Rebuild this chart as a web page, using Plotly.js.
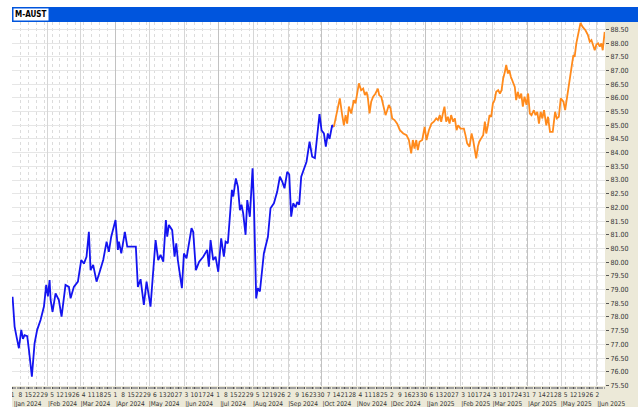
<!DOCTYPE html>
<html>
<head>
<meta charset="utf-8">
<script src="https://cdn.plot.ly/plotly-3.0.1.min.js"></script>
<style>
html,body{margin:0;padding:0;background:#fff;}
#chart{width:638px;height:407px;}
</style>
</head>
<body>
<div id="chart"></div>
<script>
// ---- data (day offsets from start date, closing values) ----
const startDate = '2024-01-01';
const chartTitle = 'M-AUST';

const blueDays = [0,1.8,3.5,5.6,7.7,9.2,10.6,13,14.5,17.1,
19.5,21.8,24.8,27.8,29.8,31.3,32.8,33.7,35.4,38.1,
41,43.4,46.9,49.9,51.4,54.3,57.9,60.8,63.2,65.5,
67.6,69.1,71.4,74.4,76.8,80.3,83.3,85.3,87.4,91.2,
93.3,94.2,96.3,99.5,101.6,109.2,111,113.4,116.3,118.7,
122.2,124.6,126.7,129,131.1,133.5,135.8,137,138.5,141.4,
143.5,145,146.4,150,151.8,154.1,158.5,160,162.4,165.3,
168.9,172.4,173.9,175.4,177.7,179.8,182.2,184.8,187.2,188.7,
190.7,194.3,195.5,197.8,199.6,201.4,202.8,204.3,206.4,207.9,
210.2,212.6,213.8,215.8,217.3,219.1,220.3,222.6,226.2,228.5,
231.5,234.4,236.8,238.9,240.9,243.3,245.1,246.8,248.6,250.7,
252.1,253.9,255.7,258,260.4,263.1,265.4,267.8,269.9,271.9,
273.7,275.8,277.5,279.3,280.8,283.1,284.6];
const blueValues = [78.74,77.65,77.28,76.86,77.53,77.2,77.34,77.3,76.8,75.82,
77.04,77.53,77.89,78.38,79.17,78.75,79.35,78.62,78.19,78.86,
78.62,78.01,79.17,79.1,78.68,79.1,79.29,80.08,79.95,80.2,
81.11,79.71,79.9,79.29,79.6,80.08,80.75,80.38,80.93,81.54,
80.45,80.75,80.32,81.11,80.57,80.57,79.1,79.38,78.44,79.29,
78.38,79.6,80.81,80.08,80.27,80.02,81.54,80.93,81.36,81.17,
80.2,80.69,80.08,79.05,80.32,80.14,81.24,81.11,79.71,80.02,
80.2,80.45,79.84,80.81,80.08,80.2,79.65,80.87,80.2,80.75,
80.69,82.64,82.4,83.06,82.76,81.9,82.1,81.78,81.0,82.27,
81.66,83.43,82.15,78.68,79.05,78.93,79.42,80.32,80.93,81.97,
82.15,82.57,83.12,82.94,82.7,83.3,83.2,81.66,82.15,82.0,
82.2,82.1,83.12,83.43,83.67,84.4,83.85,83.8,84.76,85.41,
84.82,84.7,84.22,84.7,84.5,85.0,84.94];

const orangeDays = [284.6,287.6,289.9,292,293.5,295,296.4,297.9,300,302.3,
303.8,306.8,308.8,310.6,312.1,313.6,314.8,316.2,317.7,319.4,
321.5,323.6,324.8,326.6,328.3,330.4,331.9,333.3,334.8,336.3,
338.4,340.7,343.1,346.1,349,351.1,353.1,354.6,356.1,357.6,
359,360.5,362.9,365,366.7,368.8,371.1,373.2,375.3,376.8,
378.5,379.7,381.2,382.6,384.1,385.6,387.1,388.5,390.3,391.8,
393.3,394.7,396.8,399.8,401.2,402.7,404.8,406.6,408,409.5,
410.7,412.2,413.4,415.1,416.9,418.4,419.6,421.1,422.5,424,
425.5,427,428.4,430.2,431.7,433.2,434.6,436.1,437.3,438.8,
440,441.4,442.9,444.9,446.1,447.6,449.1,450.6,452,453.5,
455.3,456.7,458.2,459.7,461.8,463.3,464.8,466.3,467.8,469.3,
470.8,472.8,474.3,476.1,478.5,480.6,482.1,483.9,485.6,488,
489.5,491.5,493,494.4,495.9,496.8,497.9,499.4,500.9,502.2,
503.1,504.8,507.5,509.6,511.3,512.8,514.3,515.7,517.2,518.7,
520.2,521.6,522.8,523.8,524.5];
const orangeValues = [84.94,85.49,85.98,85.37,85.0,85.37,85.06,85.68,85.43,85.92,
85.8,86.53,86.28,86.34,86.1,86.22,85.98,85.43,85.86,86.04,
86.16,86.34,86.1,86.04,85.74,85.37,85.55,85.74,85.62,85.25,
85.19,85.06,84.82,84.7,84.64,84.46,83.97,84.46,84.15,84.46,
84.09,84.4,84.46,84.94,84.46,84.82,85.06,85.13,85.25,85.19,
85.37,85.13,85.43,85.68,85.13,85.31,85.06,85.37,85.13,85.25,
84.82,85.0,84.88,84.88,84.64,84.34,84.22,84.7,84.46,84.09,
83.79,84.22,84.4,84.52,84.64,85.13,84.7,85.0,85.37,85.31,
85.8,85.92,86.22,86.28,86.16,86.28,86.71,86.95,87.2,86.89,
87.01,86.77,86.59,86.4,85.92,86.22,85.98,86.16,85.68,86.04,
85.74,86.16,85.43,85.37,85.55,85.37,85.49,85.06,85.49,85.25,
85.55,85.0,85.31,84.76,84.76,85.49,85.25,85.31,85.98,85.86,
85.55,86.16,86.53,86.89,87.32,87.56,87.5,87.99,88.3,88.54,
88.74,88.6,88.47,88.3,88.05,88.11,87.87,87.74,87.95,87.99,
87.87,87.99,87.74,88.11,88.41];

const xRangeDays = [-0.5, 524.8];
const yRange = [75.48, 88.77];

// ---- helpers ----
const DAY = 86400000;
const t0 = Date.parse(startDate + 'T00:00:00Z');
function toDate(d){ return new Date(t0 + d*DAY).toISOString().replace('T',' ').replace('Z',''); }
const xRange = xRangeDays.map(toDate);

const FONT = 'Liberation Sans Narrow, DejaVu Sans Condensed, Arial Narrow, sans-serif';

const traces = [
  {x: blueDays.map(toDate), y: blueValues, type:'scatter', mode:'lines',
   line:{color:'#1414F0', width:1.8}, hoverinfo:'skip', xaxis:'x', yaxis:'y'},
  {x: orangeDays.map(toDate), y: orangeValues, type:'scatter', mode:'lines',
   line:{color:'#FF8A1C', width:1.8}, hoverinfo:'skip', xaxis:'x', yaxis:'y'},
  // invisible carriers so the month / quarter axes are drawn
  {x: xRange, y: [yRange[0], yRange[0]], type:'scatter', mode:'lines',
   line:{width:0, color:'rgba(0,0,0,0)'}, hoverinfo:'skip', xaxis:'x2', yaxis:'y', showlegend:false},
  {x: xRange, y: [yRange[0], yRange[0]], type:'scatter', mode:'lines',
   line:{width:0, color:'rgba(0,0,0,0)'}, hoverinfo:'skip', xaxis:'x3', yaxis:'y', showlegend:false}
];

const W = 638, H = 407, mL = 12, mR = 33, mT = 22, mB = 21;
const pw = W - mL - mR, ph = H - mT - mB;

const layout = {
  width: W, height: H,
  margin: {l:mL, r:mR, t:mT, b:mB, pad:0},
  paper_bgcolor: '#ECE9D8',
  plot_bgcolor: '#FFFFFF',
  showlegend: false,
  font: {family: FONT, size: 7, color: '#333'},
  xaxis: {
    type:'date', range: xRange, fixedrange:true, automargin:false,
    tickmode:'linear', tick0: startDate, dtick: 7*DAY, tickformat:'%-d', tickangle:0,
    ticks:'outside', ticklen:2, tickcolor:'#555', tickwidth:1, ticklabelstandoff:0,
    tickfont:{family:FONT, size:6.5, color:'#333'},
    showgrid:true, gridcolor:'#dcdcdc', griddash:'dot', gridwidth:1,
    minor:{dtick: DAY, ticks:'outside', ticklen:2, tickcolor:'#a0a0a0', showgrid:false},
    showline:false, zeroline:false
  },
  xaxis2: {
    type:'date', overlaying:'x', anchor:'y', side:'bottom', range: xRange, fixedrange:true, automargin:false,
    tickmode:'linear', tick0: startDate, dtick:'M1', tickformat:'|%b %Y', tickangle:0,
    ticks:'outside', ticklen:0, ticklabelstandoff: 11, ticklabelshift: 15,
    tickfont:{family:FONT, size:6.5, color:'#333'},
    showgrid:true, gridcolor:'#d6d6d6', gridwidth:1,
    showline:false, zeroline:false
  },
  xaxis3: {
    type:'date', overlaying:'x', anchor:'y', range: xRange, fixedrange:true,
    tickmode:'linear', tick0: startDate, dtick:'M3',
    showticklabels:false, ticks:'',
    showgrid:true, gridcolor:'#c2c2c2', gridwidth:1,
    showline:false, zeroline:false
  },
  yaxis: {
    side:'right', range: yRange, fixedrange:true, automargin:false,
    tickmode:'linear', tick0:76, dtick:0.5, tickformat:'.2f',
    ticks:'outside', ticklen:3, tickcolor:'#555',
    tickfont:{family:FONT, size:7, color:'#333'},
    showgrid:true, gridcolor:'#e6e6e6', gridwidth:1,
    showline:false, zeroline:false
  },
  shapes: [
    {type:'rect', xref:'paper', yref:'paper', x0:-mL/pw-0.01, x1:0, y0:-mB/ph-0.01, y1:1+mT/ph+0.01,
     fillcolor:'#FFFFFF', line:{width:0}, layer:'above'},
    {type:'rect', xref:'paper', yref:'paper', x0:-0.05, x1:1+mR/pw+0.01, y0:1+15/ph, y1:1+mT/ph+0.01,
     fillcolor:'#FFFFFF', line:{width:0}, layer:'above'},
    {type:'rect', xref:'paper', yref:'paper', x0:0, x1:1+mR/pw+0.01, y0:1, y1:1+15/ph,
     fillcolor:'#0055DD', line:{width:0}, layer:'above'}
  ],
  annotations: [
    {text:'<b>' + chartTitle + '</b>', xref:'paper', yref:'paper', x:1/pw, y:1+7.5/ph,
     xanchor:'left', yanchor:'middle', showarrow:false,
     font:{family:FONT, size:8, color:'#000'}, bgcolor:'#FFFFFF', borderpad:1}
  ]
};

Plotly.newPlot('chart', traces, layout, {staticPlot:true, displayModeBar:false});
</script>
</body>
</html>
